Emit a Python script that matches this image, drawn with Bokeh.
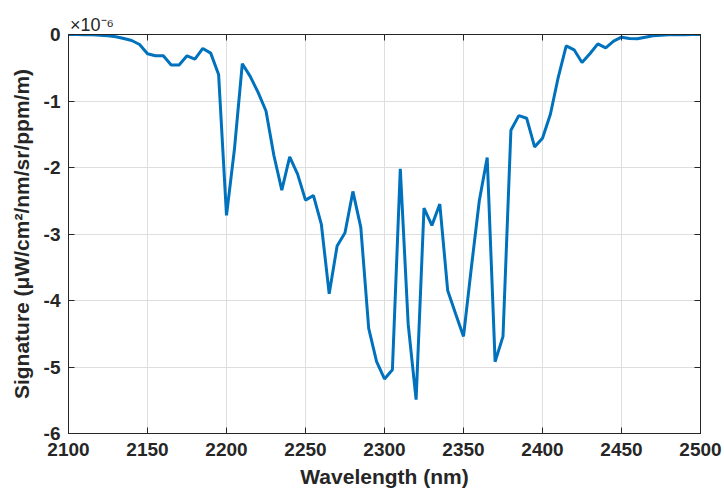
from bokeh.plotting import figure
from bokeh.models import (Range1d, LinearAxis, FixedTicker, PrintfTickFormatter,
                          CustomJSTickFormatter)
from bokeh.embed import file_html
from bokeh.resources import INLINE

wavelength = [2100, 2105, 2110, 2115, 2120, 2125, 2130, 2135, 2140, 2145,
              2150, 2155, 2160, 2165, 2170, 2175, 2180, 2185, 2190, 2195,
              2200, 2205, 2210, 2215, 2220, 2225, 2230, 2235, 2240, 2245,
              2250, 2255, 2260, 2265, 2270, 2275, 2280, 2285, 2290, 2295,
              2300, 2305, 2310, 2315, 2320, 2325, 2330, 2335, 2340, 2345,
              2350, 2355, 2360, 2365, 2370, 2375, 2380, 2385, 2390, 2395,
              2400, 2405, 2410, 2415, 2420, 2425, 2430, 2435, 2440, 2445,
              2450, 2455, 2460, 2465, 2470, 2475, 2480, 2485, 2490, 2495,
              2500]
# signature in units of 1e-6 uW/cm^2/nm/sr/ppm/m
signature = [0.0, 0.0, -0.002, -0.005, -0.01, -0.02, -0.035, -0.06, -0.09, -0.15,
             -0.29, -0.32, -0.32, -0.46, -0.46, -0.32, -0.37, -0.21, -0.28, -0.60,
             -2.72, -1.73, -0.44, -0.63, -0.87, -1.15, -1.82, -2.34, -1.84, -2.10,
             -2.49, -2.42, -2.85, -3.90, -3.18, -2.98, -2.36, -2.90, -4.42, -4.92,
             -5.18, -5.04, -2.02, -4.36, -5.49, -2.61, -2.87, -2.55, -3.85, -4.20,
             -4.54, -3.50, -2.50, -1.85, -4.92, -4.54, -1.44, -1.22, -1.26, -1.69,
             -1.56, -1.20, -0.64, -0.17, -0.23, -0.42, -0.29, -0.14, -0.20, -0.10,
             -0.04, -0.06, -0.065, -0.04, -0.02, -0.01, -0.005, -0.003, -0.002, -0.001,
             -0.001]
x_ticks = [2100, 2150, 2200, 2250, 2300, 2350, 2400, 2450, 2500]
y_ticks = [-6, -5, -4, -3, -2, -1, 0]
multiplier = "\u00d710\u207b\u2076"

FONT = "Liberation Sans"
AX = "#262626"
PAD = "\u00a0" * 117  # trailing no-break spaces shift the centred label to the left corner

p = figure(width=724, height=495, x_range=Range1d(2100, 2500), y_range=Range1d(-6, 0),
           output_backend="svg", toolbar_location=None,
           min_border_left=68, min_border_right=24, min_border_top=34, min_border_bottom=62,
           x_axis_label="Wavelength (nm)", y_axis_label="Signature (\u03bcW/cm\u00b2/nm/sr/ppm/m)")
p.background_fill_color = "white"
p.border_fill_color = "white"
p.outline_line_color = AX
p.outline_line_width = 1

p.line(wavelength, signature, line_color="#0072BD", line_width=3)

for ax in (p.xaxis[0], p.yaxis[0]):
    ax.axis_line_color = AX
    ax.major_tick_line_color = AX
    ax.major_tick_in = 6
    ax.major_tick_out = 0
    ax.minor_tick_line_color = None
    ax.major_label_text_font = FONT
    ax.major_label_text_font_style = "bold"
    ax.major_label_text_font_size = "19px"
    ax.major_label_text_color = AX
    ax.axis_label_text_font = FONT
    ax.axis_label_text_font_style = "bold"
    ax.axis_label_text_font_size = "21px"
    ax.axis_label_text_color = AX
    ax.formatter = PrintfTickFormatter(format="%d")

p.xaxis[0].ticker = FixedTicker(ticks=x_ticks)
p.yaxis[0].ticker = FixedTicker(ticks=y_ticks)
p.xaxis[0].major_label_standoff = 9
p.xaxis[0].axis_label_standoff = 6
p.yaxis[0].major_label_standoff = 8
p.yaxis[0].axis_label_standoff = 8

blank = CustomJSTickFormatter(code="return ''")
# top axis: inward ticks, no tick labels, and the exponent multiplier as its label
top = LinearAxis(ticker=FixedTicker(ticks=x_ticks), formatter=blank, axis_line_color=AX,
                 major_tick_in=6, major_tick_out=0, minor_tick_line_color=None,
                 major_tick_line_color=AX, major_label_standoff=0,
                 axis_label=multiplier + PAD, axis_label_standoff=0,
                 axis_label_text_font=FONT, axis_label_text_font_style="normal",
                 axis_label_text_font_size="18px", axis_label_text_color=AX)
right = LinearAxis(ticker=FixedTicker(ticks=y_ticks), formatter=blank, axis_line_color=AX,
                   major_tick_in=6, major_tick_out=0, minor_tick_line_color=None,
                   major_tick_line_color=AX, major_label_standoff=0)
p.add_layout(top, "above")
p.add_layout(right, "right")
p.title.text = ""

p.xgrid.ticker = FixedTicker(ticks=x_ticks)
p.ygrid.ticker = FixedTicker(ticks=y_ticks)
p.grid.grid_line_color = "#dedede"
p.grid.grid_line_width = 1

open("out.html", "w").write(file_html(p, INLINE))
